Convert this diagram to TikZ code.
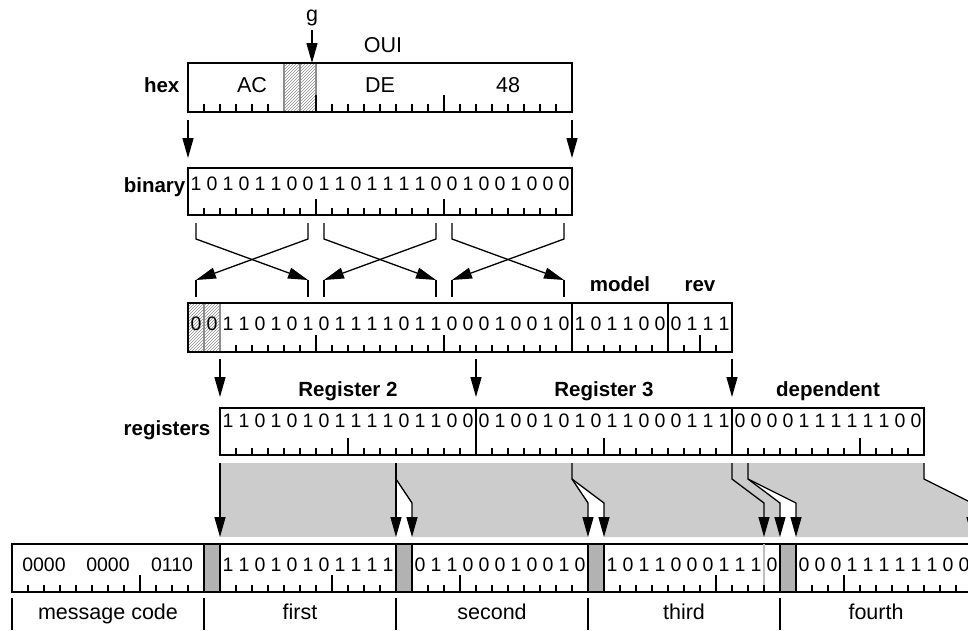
\documentclass[tikz,border=0pt]{standalone}
\usepackage{fontspec}
\setmainfont{Liberation Sans}
\usetikzlibrary{positioning,arrows.meta,patterns}

\begin{document}
\begin{tikzpicture}[x=1pt, y=-1pt, line width=1.3pt,
  box/.style={draw, line width=1.8pt, inner sep=0pt, outer sep=0pt, anchor=north west},
  dig/.style={font=\fontsize{19.5}{20}\selectfont, inner sep=0pt, anchor=base},
  lab/.style={font=\fontsize{21.5}{22}\selectfont, inner sep=0pt, anchor=base},
  blab/.style={font=\fontsize{20.5}{22}\selectfont\bfseries, inner sep=0pt, anchor=base},
  arr/.style={-{Triangle[length=20pt, width=11pt]}},
  hatch/.style={pattern=north east lines, pattern color=black!45},
  band/.style={fill=black!20},
  par/.style={draw, line width=1.8pt, fill=black!30}]
\useasboundingbox (0,0) rectangle (968,630);
\clip (0,0) rectangle (968,630);

% hex
\node[lab] (g) at (312,21) {g};
\node[lab] (oui) at (383,52) {OUI};
\fill[hatch] (284,63) rectangle (316,112);
\draw[black!45] (284,63) -- (284,112) (300,63) -- (300,112) (316,63) -- (316,112);
\node[box, minimum width=384pt, minimum height=49pt] (hex) at (188,63) {};
\foreach \k in {1,2,...,5,9,10,...,15,17,18,...,23} \draw (188+16*\k,112) -- ++(0,-8);
\foreach \k in {8,16} \draw (188+16*\k,112) -- ++(0,-17);
\node[lab] (ac) at (252,92) {AC};
\node[lab] (de) at (380,92) {DE};
\node[lab] (v48) at (508,92) {48};
\node[blab, anchor=base east] (hexl) at (180,92) {hex};
\draw[arr] ([yshift=-4pt]g.south) -- (g.south |- hex.north);

% binary
\node[box, minimum width=384pt, minimum height=47pt] (bin) at (188,168) {};
\foreach \b [count=\i from 0] in {1,0,1,0,1,1,0,0,1,1,0,1,1,1,1,0,0,1,0,0,1,0,0,0}
  \node[dig] (bi\i) at (196+16*\i,190) {\b};
\foreach \k in {1,2,...,7,9,10,...,15,17,18,...,23} \draw (188+16*\k,215) -- ++(0,-7);
\foreach \k in {8,16} \draw (188+16*\k,215) -- ++(0,-16);
\node[blab, anchor=base east] (binl) at (186,192) {binary};
\draw[arr] ([yshift=-8pt]hex.south west) -- ([yshift=10pt]bin.north west);
\draw[arr] ([yshift=-8pt]hex.south east) -- ([yshift=10pt]bin.north east);

\foreach \j in {0,1,2}{
  \coordinate (p\j) at (196+128*\j,223);
  \coordinate (q\j) at (308+128*\j,223);
  \coordinate (s\j) at (196+128*\j,280);
  \coordinate (t\j) at (308+128*\j,280);
  \draw[arr] (p\j) -- ++(0,16) -- (t\j);
  \draw[arr] (q\j) -- ++(0,16) -- (s\j);
  \draw (s\j) -- ++(0,17) (t\j) -- ++(0,17);
}

% reversed bytes, model, rev
\fill[hatch] (188,303) rectangle (220,352);
\draw[black!45] (204,303) -- (204,352) (220,303) -- (220,352);
\node[box, minimum width=544pt, minimum height=49pt] (rev) at (188,303) {};
\draw[line width=1.8pt] (572,303) -- (572,352) (668,303) -- (668,352);
\foreach \b [count=\i from 0] in {0,0,1,1,0,1,0,1,0,1,1,1,1,0,1,1,0,0,0,1,0,0,1,0,1,0,1,1,0,0,0,1,1,1}
  \node[dig] (ro\i) at (196+16*\i,330) {\b};
\foreach \k in {3,4,...,7,9,10,...,15,17,18,...,23,25,26,...,29,31,33} \draw (188+16*\k,352) -- ++(0,-7);
\foreach \k in {8,16,32} \draw (188+16*\k,352) -- ++(0,-17);
\node[blab] (model) at (620,291) {model};
\node[blab] (revl) at (700,291) {rev};

\foreach \n/\x in {1/220,2/476,3/732}{
  \coordinate (u\n) at (\x,359);
  \coordinate (w\n) at (\x,397);
  \draw[arr] (u\n) -- (w\n);
}
\node[blab] (reg2) at (348,396) {Register 2};
\node[blab] (reg3) at (604,396) {Register 3};
\node[blab] (dep) at (828,396) {dependent};

% registers
\node[box, minimum width=704pt, minimum height=47pt] (reg) at (220,408) {};
\draw[line width=1.8pt] (476,408) -- (476,455) (732,408) -- (732,455);
\foreach \b [count=\i from 0] in {1,1,0,1,0,1,0,1,1,1,1,0,1,1,0,0,0,1,0,0,1,0,1,0,1,1,0,0,0,1,1,1,0,0,0,0,1,1,1,1,1,1,0,0}
  \node[dig] (rg\i) at (228+16*\i,427) {\b};
\foreach \k in {1,2,...,15,17,18,...,31,33,34,...,43} \draw (220+16*\k,455) -- ++(0,-7);
\foreach \k in {8,24,40} \draw (220+16*\k,455) -- ++(0,-17);
\node[blab, anchor=base east] (regl) at (211,435) {registers};

% mapping
\coordinate (k1) at (0,479);
\coordinate (k2) at (0,503);
\coordinate (k3) at (0,537);
\foreach \n/\x in {ra/220,rb/396,rc/572,rd/732,re/748,rf/924} \coordinate (\n) at (\x,463);
\foreach \n/\x in {ma/220,mb/396,mc/412,md/588,me/604,mf/764,mg/780,mh/796,mi/972} \coordinate (\n) at (\x,544);
\fill[band] (ra) -- (rb) -- (mb |- k3) -- (ma |- k3) -- cycle;
\fill[band] (rb) -- (rc) -- (rc |- k1) -- (md |- k2) -- (md |- k3) -- (mc |- k3) -- (mc |- k2) -- (rb |- k1) -- cycle;
\fill[band] (rc) -- (re) -- (re |- k1) -- (mg |- k2) -- (mg |- k3) -- (me |- k3) -- (me |- k2) -- (rc |- k1) -- cycle;
\fill[band] (re) -- (rf) -- (rf |- k1) -- (mi |- k2) -- (mi |- k3) -- (mh |- k3) -- (mh |- k2) -- (re |- k1) -- cycle;
\draw[arr] (ra) -- (ma |- k3);
\draw[arr] (rb) -- (mb |- k3);
\draw[arr] (rb |- k1) -- (mc |- k2) -- (mc |- k3);
\draw[arr] (rc) -- (rc |- k1) -- (md |- k2) -- (md |- k3);
\draw[arr] (rc |- k1) -- (me |- k2) -- (me |- k3);
\draw[arr] (rd) -- (rd |- k1) -- (mf |- k2) -- (mf |- k3);
\draw[arr] (re) -- (re |- k1) -- (mg |- k2) -- (mg |- k3);
\draw[arr] (re |- k1) -- (mh |- k2) -- (mh |- k3);
\draw[arr] (rf) -- (rf |- k1) -- (mi |- k2) -- (mi |- k3);

% message
\node[box, minimum width=960pt, minimum height=48pt] (msg) at (12,544) {};
\draw[black!25] (764,544) -- (764,592);
\foreach \x in {204,396,588,780} \draw[par] (\x,544) rectangle (\x+16,592);
\foreach \p in {1,2,...,11,14,15,...,23,26,27,...,35,38,39,...,47,50,51,...,59} \draw (12+16*\p,592) -- ++(0,-7);
\foreach \p in {8,20,28,44,52} \draw (12+16*\p,592) -- ++(0,-17);
\node[dig] (c1) at (44,571) {0000};
\node[dig] (c2) at (108,571) {0000};
\node[dig] (c3) at (172,571) {0110};
\foreach \b [count=\i from 0] in {1,1,0,1,0,1,0,1,1,1,1} \node[dig] (fa\i) at (228+16*\i,571) {\b};
\foreach \b [count=\i from 0] in {0,1,1,0,0,0,1,0,0,1,0} \node[dig] (fb\i) at (420+16*\i,571) {\b};
\foreach \b [count=\i from 0] in {1,0,1,1,0,0,0,1,1,1,0} \node[dig] (fc\i) at (612+16*\i,571) {\b};
\foreach \b [count=\i from 0] in {0,0,0,1,1,1,1,1,1,0,0} \node[dig] (fd\i) at (804+16*\i,571) {\b};

\foreach \x in {12,204,396,588,780} \draw (\x,598) -- (\x,630);
\node[lab] (mcode) at (108,619) {message code};
\node[lab] (first) at (300,619) {first};
\node[lab] (second) at (492,619) {second};
\node[lab] (third) at (684,619) {third};
\node[lab] (fourth) at (876,619) {fourth};
\end{tikzpicture}
\end{document}
